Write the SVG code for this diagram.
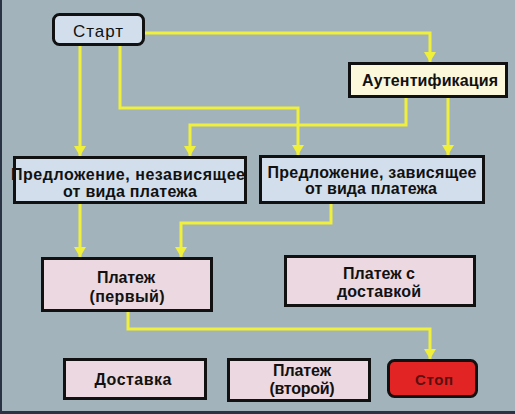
<svg xmlns="http://www.w3.org/2000/svg" width="515" height="414" viewBox="0 0 515 414">
<defs>
<marker id="ah" viewBox="0 0 10 12" markerWidth="11" markerHeight="12" refX="10" refY="6" orient="auto" markerUnits="userSpaceOnUse">
<path d="M0,0 L10,6 L0,12 z" fill="#f0f03a"/>
</marker>
</defs>
<style>
.box{stroke:#111;stroke-width:3}
.blue{fill:#d2deec}
.cream{fill:#fcf8dc}
.pink{fill:#ecd8e0}
.red{fill:#e22424}
.t{font-family:"Liberation Sans",Arial,sans-serif;font-weight:bold;font-size:16px;fill:#111;text-anchor:middle}
.c{fill:none;stroke:#f0f03a;stroke-width:3;marker-end:url(#ah)}
</style>
<rect x="0" y="0" width="515" height="414" fill="#a3b3bb"/>
<rect x="0" y="0" width="2" height="414" fill="#2a3344"/>
<rect x="0" y="411" width="515" height="3" fill="#2a3344"/>
<g id="connectors">
<path class="c" d="M145,33 H430 V62"/>
<path class="c" d="M80,46 V156"/>
<path class="c" d="M120,46 V108 H298 V155"/>
<path class="c" d="M406,98 V125 H190 V156"/>
<path class="c" d="M448,98 V155"/>
<path class="c" d="M80,204 V257"/>
<path class="c" d="M331,204 V223 H181 V257"/>
<path class="c" d="M128,312 V329 H430 V359"/>
</g>
<g id="start">
<rect class="box blue" x="53.5" y="14.5" width="90" height="30" rx="6"/>
<text class="t" x="98" y="37" style="font-weight:normal;font-size:17px" textLength="50">Старт</text>
</g>
<g id="auth">
<rect class="box cream" x="349.5" y="63.5" width="157" height="33"/>
<text class="t" x="430" y="86" style="font-size:16px" textLength="136">Аутентификация</text>
</g>
<g id="pred1">
<rect class="box blue" x="14.5" y="157.5" width="231" height="45"/>
<text class="t" x="128" y="180" textLength="234">Предложение, независящее</text>
<text class="t" x="130" y="197" textLength="134">от вида платежа</text>
</g>
<g id="pred2">
<rect class="box blue" x="260.5" y="156.5" width="223" height="46"/>
<text class="t" x="372" y="178" textLength="209">Предложение, зависящее</text>
<text class="t" x="371" y="194" textLength="132">от вида платежа</text>
</g>
<g id="plat1">
<rect class="box pink" x="42.5" y="258.5" width="169" height="52"/>
<text class="t" x="126" y="283" textLength="58">Платеж</text>
<text class="t" x="127" y="302" textLength="75">(первый)</text>
</g>
<g id="platdost">
<rect class="box pink" x="285.5" y="256.5" width="189" height="49"/>
<text class="t" x="379" y="279" textLength="72">Платеж с</text>
<text class="t" x="379" y="297" textLength="84">доставкой</text>
</g>
<g id="dost">
<rect class="box pink" x="64.5" y="359.5" width="141" height="39"/>
<text class="t" x="133" y="385" textLength="77">Доставка</text>
</g>
<g id="plat2">
<rect class="box pink" x="228.5" y="359.5" width="141" height="41"/>
<text class="t" x="302" y="376" textLength="58">Платеж</text>
<text class="t" x="302" y="394" textLength="65">(второй)</text>
</g>
<g id="stop">
<rect class="box red" x="388.5" y="360.5" width="88" height="36" rx="6"/>
<text class="t" x="434" y="385" style="font-size:15px;fill:#5a1010" textLength="38">Стоп</text>
</g>
</svg>
